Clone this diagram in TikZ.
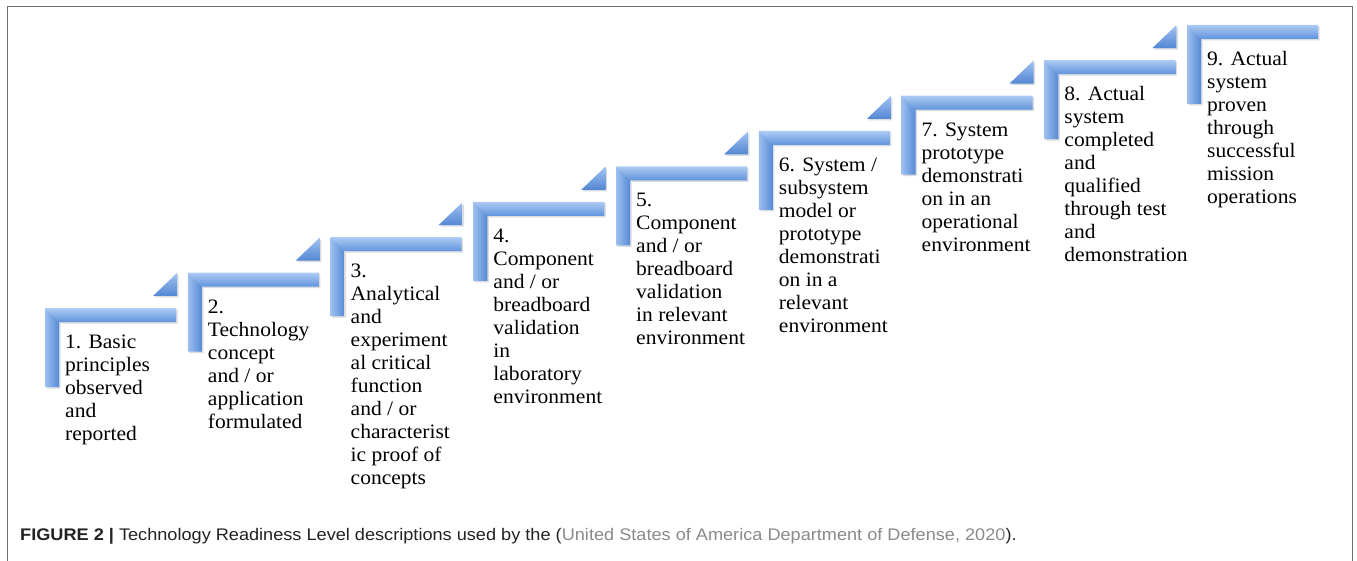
\documentclass[tikz,border=0pt]{standalone}
\usepackage{fontspec}
\setmainfont{Liberation Serif}
\newfontfamily\stepfont[FakeStretch=1.05]{Liberation Serif}
\newfontfamily\capfont[FakeStretch=1.08]{Liberation Sans}
\definecolor{framecol}{HTML}{6E6E6E}
\definecolor{hlight}{HTML}{ADCBF4}
\definecolor{hdark}{HTML}{6194DC}
\definecolor{vlight}{HTML}{9EC0F0}
\definecolor{vdark}{HTML}{5689D5}
\definecolor{tlight}{HTML}{A2C3F1}
\definecolor{tdark}{HTML}{5386D3}
\definecolor{shadowcol}{HTML}{D9DCE1}
\definecolor{citecol}{HTML}{8A8A8A}
\definecolor{captext}{HTML}{222222}
\newcommand{\steplines}[1]{\begin{tabular}[t]{@{}l@{}}#1\end{tabular}}
\tikzset{
  steptext/.style={anchor=base west, inner sep=0pt, font=\stepfont\fontsize{20.5}{23}\selectfont, text=black},
  hbar/.style={top color=hlight, bottom color=hdark},
  vbar/.style={left color=vlight, right color=vdark},
  tribox/.style={top color=tlight, bottom color=tdark},
  shadowfill/.style={fill=shadowcol},
  framepen/.style={draw=framecol, line width=1.8pt},
  captionnode/.style={anchor=base west, inner sep=0pt, font=\capfont\fontsize{16.8}{19}\selectfont, text=captext}
}
\begin{document}
\begin{tikzpicture}[x=1pt,y=-1pt]
\useasboundingbox (0,0) rectangle (1357,561);
\fill[white] (0,0) rectangle (1357,561);
\draw[framepen] (7.5,562) -- (7.5,6.5) -- (1352.5,6.5) -- (1352.5,562);

% triangles
\foreach \i in {1,...,8} {
  \pgfmathsetmacro\x{45+(\i-1)*142.75}
  \pgfmathsetmacro\y{308-(\i-1)*35.4}
  \fill[shadowfill] (\x+109.5,\y-10.5) -- (\x+133.5,\y-10.5) -- (\x+133.5,\y-33.5) -- cycle;
  \shade[tribox] (\x+108,\y-12) -- (\x+132,\y-12) -- (\x+132,\y-35) -- cycle;
}

% L shapes and texts
\foreach \i/\txt in {
  1/{1. Basic\\principles\\observed\\and\\reported},
  2/{2.\\Technology\\concept\\and / or\\application\\formulated},
  3/{3.\\Analytical\\and\\experiment\\al critical\\function\\and / or\\characterist\\ic proof of\\concepts},
  4/{4.\\Component\\and / or\\breadboard\\validation\\in\\laboratory\\environment},
  5/{5.\\Component\\and / or\\breadboard\\validation\\in relevant\\environment},
  6/{6. System /\\subsystem\\model or\\prototype\\demonstrati\\on in a\\relevant\\environment},
  7/{7. System\\prototype\\demonstrati\\on in an\\operational\\environment},
  8/{8. Actual\\system\\completed\\and\\qualified\\through test\\and\\demonstration},
  9/{9. Actual\\system\\proven\\through\\successful\\mission\\operations}} {
  \pgfmathsetmacro\x{45+(\i-1)*142.75}
  \pgfmathsetmacro\y{308-(\i-1)*35.4}
  \fill[shadowfill] (\x+1.5,\y+1.5) -- (\x+132.5,\y+1.5) -- (\x+132.5,\y+15.5) -- (\x+15.5,\y+15.5) -- (\x+15.5,\y+80.5) -- (\x+1.5,\y+80.5) -- cycle;
  \shade[hbar] (\x,\y) -- (\x+131,\y) -- (\x+131,\y+14) -- (\x+14,\y+14) -- cycle;
  \shade[vbar] (\x,\y) -- (\x+14,\y+14) -- (\x+14,\y+79) -- (\x,\y+79) -- cycle;
  \node[steptext] (t\i) at (\x+20,\y+40.5) {\steplines{\txt}};
}

\node[captionnode] (cap) at (20,540) {{\bfseries FIGURE 2 |} Technology Readiness Level descriptions used by the (\textcolor{citecol}{United States of America Department of Defense, 2020}).};
\end{tikzpicture}
\end{document}
